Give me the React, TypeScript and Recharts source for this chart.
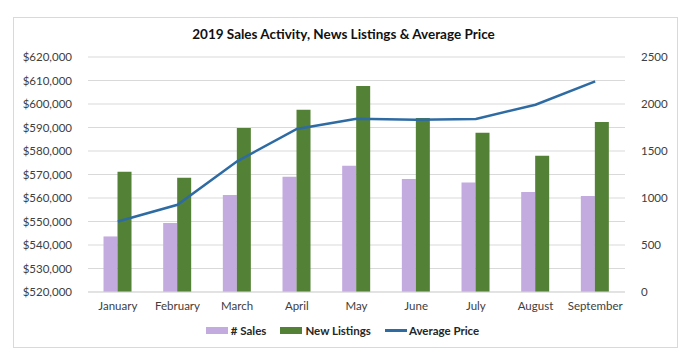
import React from 'react';
import { ComposedChart, Bar, Line, XAxis, YAxis, CartesianGrid } from 'recharts';

const months = ['January', 'February', 'March', 'April', 'May', 'June', 'July', 'August', 'September'];
const sales = [591, 734, 1032, 1227, 1344, 1202, 1166, 1064, 1021];
const newListings = [1280, 1216, 1745, 1939, 2191, 1851, 1695, 1450, 1808];
const avgPrice = [550000, 557100, 575600, 589400, 593700, 593300, 593600, 599700, 609600];
const priceTicks = [520000, 530000, 540000, 550000, 560000, 570000, 580000, 590000, 600000, 610000, 620000];
const countTicks = [0, 500, 1000, 1500, 2000, 2500];

const data = months.map((m, i) => ({ month: m, sales: sales[i], listings: newListings[i], price: avgPrice[i] }));

const FONT = 'Lato, "Open Sans", sans-serif';
const TICK = { fontSize: 11.5, fill: '#404040', fontFamily: FONT };

const LAV = '#c3aadf';
const GREEN = '#538135';
const BLUE = '#2e6ba3';

function LegendItem({ color, label, line }: { color: string; label: string; line?: boolean }) {
  return (
    <div style={{ display: 'flex', alignItems: 'center', marginRight: 14 }}>
      {line ? (
        <div style={{ width: 22, height: 2.5, background: color, marginRight: 2 }} />
      ) : (
        <div style={{ width: 22, height: 7, background: color, marginRight: 3 }} />
      )}
      <span style={{ fontSize: 11.5, fontWeight: 700, color: '#262626', fontFamily: FONT }}>{label}</span>
    </div>
  );
}

export default function App() {
  return (
    <div style={{ position: 'absolute', left: 0, top: 0, width: 687, height: 359, background: '#fff' }}>
      <div style={{ position: 'absolute', left: 13, top: 17, width: 663, height: 329, border: '1px solid #d9d9d9' }} />
      <div style={{ position: 'absolute', top: 26, width: 687, textAlign: 'center', fontFamily: FONT, fontWeight: 700, fontSize: 13.5, color: '#111' }}>
        2019 Sales Activity, News Listings &amp; Average Price
      </div>
      <div style={{ position: 'absolute', left: 0, top: 0 }}>
        <ComposedChart width={687} height={359} data={data} margin={{ top: 57, right: 0, bottom: 0, left: 0 }} barCategoryGap="26%" barGap={0}>
          <CartesianGrid vertical={false} stroke="#d9d9d9" yAxisId="price" />
          <XAxis dataKey="month" height={67} tick={TICK} tickLine={false} axisLine={{ stroke: '#d9d9d9' }} tickMargin={4} interval={0} />
          <YAxis
            yAxisId="price"
            orientation="left"
            width={88}
            domain={[520000, 620000]}
            ticks={priceTicks}
            tick={TICK}
            tickLine={false}
            axisLine={false}
            tickMargin={10}
            tickFormatter={(v: number) => '$' + v.toLocaleString('en-US')}
          />
          <YAxis
            yAxisId="count"
            orientation="right"
            width={62}
            domain={[0, 2500]}
            ticks={countTicks}
            tick={TICK}
            tickLine={false}
            axisLine={false}
            tickMargin={10}
          />
          <Bar yAxisId="count" dataKey="sales" name="# Sales" fill={LAV} isAnimationActive={false} />
          <Bar yAxisId="count" dataKey="listings" name="New Listings" fill={GREEN} isAnimationActive={false} />
          <Line yAxisId="price" dataKey="price" name="Average Price" type="linear" stroke={BLUE} strokeWidth={2.5} dot={false} isAnimationActive={false} />
        </ComposedChart>
      </div>
      <div style={{ position: 'absolute', top: 324, left: 0, width: 687, display: 'flex', justifyContent: 'center', paddingLeft: 6 }}>
        <LegendItem color={LAV} label="# Sales" />
        <LegendItem color={GREEN} label="New Listings" />
        <LegendItem color={BLUE} label="Average Price" line />
      </div>
    </div>
  );
}
